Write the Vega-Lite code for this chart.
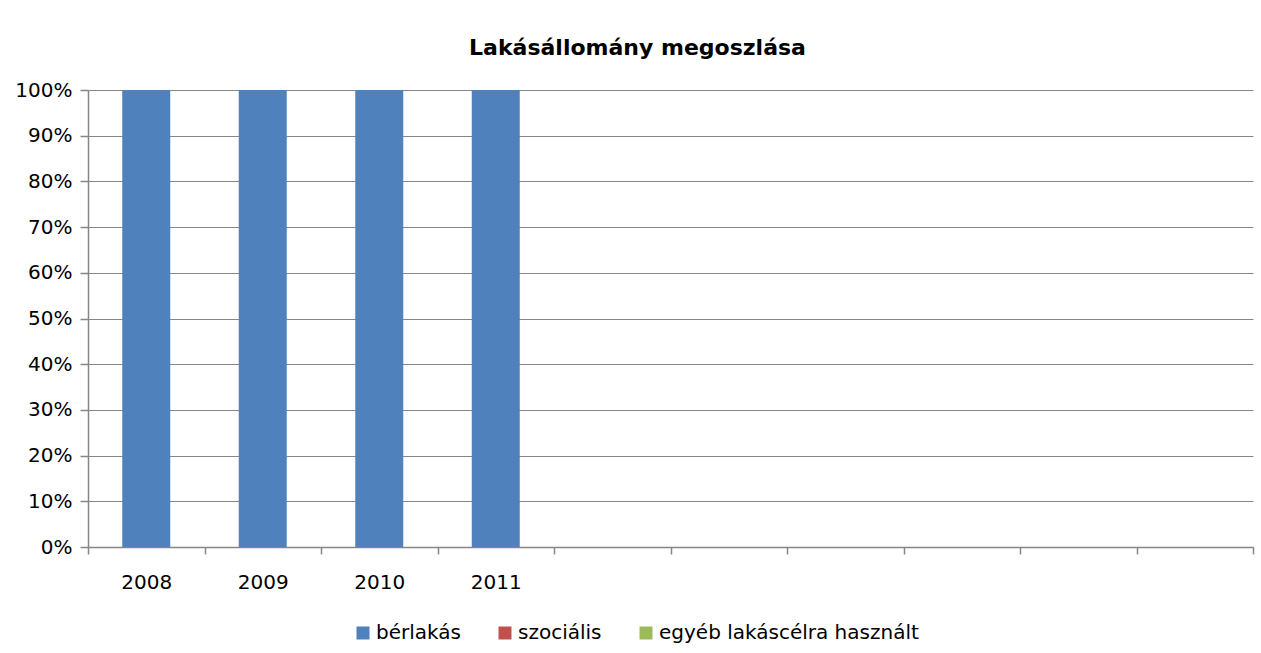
{
  "$schema": "https://vega.github.io/schema/vega-lite/v6.json",
  "autosize": "none",
  "width": 1165,
  "height": 457,
  "padding": {"left": 88, "top": 90, "right": 8, "bottom": 106},
  "background": "white",
  "config": {
    "view": {"stroke": null}
  },
  "title": {
    "text": "Lakásállomány megoszlása",
    "font": "DejaVu Sans",
    "fontSize": 22,
    "fontWeight": "bold",
    "color": "#000000",
    "anchor": "middle",
    "dx": -33,
    "offset": 20
  },
  "data": {
    "values": [
      {"year": "2008", "series": "bérlakás", "value": 100},
      {"year": "2008", "series": "szociális", "value": 0},
      {"year": "2008", "series": "egyéb lakáscélra használt", "value": 0},
      {"year": "2009", "series": "bérlakás", "value": 100},
      {"year": "2009", "series": "szociális", "value": 0},
      {"year": "2009", "series": "egyéb lakáscélra használt", "value": 0},
      {"year": "2010", "series": "bérlakás", "value": 100},
      {"year": "2010", "series": "szociális", "value": 0},
      {"year": "2010", "series": "egyéb lakáscélra használt", "value": 0},
      {"year": "2011", "series": "bérlakás", "value": 100},
      {"year": "2011", "series": "szociális", "value": 0},
      {"year": "2011", "series": "egyéb lakáscélra használt", "value": 0}
    ]
  },
  "mark": {"type": "bar", "width": {"band": 0.412}},
  "encoding": {
    "x": {
      "field": "year",
      "type": "nominal",
      "scale": {
        "domain": ["2008", "2009", "2010", "2011", " ", "  ", "   ", "    ", "     ", "      "],
        "paddingInner": 0,
        "paddingOuter": 0
      },
      "axis": {
        "title": null,
        "labelAngle": 0,
        "tickBand": "extent",
        "tickSize": 7,
        "tickColor": "#868686",
        "domainColor": "#868686",
        "tickWidth": 1.5,
        "domainWidth": 1.5,
        "labelFont": "DejaVu Sans",
        "labelFontSize": 20,
        "labelColor": "#000000",
        "labelPadding": 18,
        "grid": false
      }
    },
    "y": {
      "field": "value",
      "type": "quantitative",
      "stack": "normalize",
      "axis": {
        "title": null,
        "values": [0, 0.1, 0.2, 0.3, 0.4, 0.5, 0.6, 0.7, 0.8, 0.9, 1],
        "format": ".0%",
        "grid": true,
        "gridColor": "#868686",
        "gridWidth": 1.2,
        "domainColor": "#868686",
        "domainWidth": 1.5,
        "tickColor": "#868686",
        "tickWidth": 1.5,
        "tickSize": 8,
        "labelPadding": 8,
        "labelFont": "DejaVu Sans",
        "labelFontSize": 20,
        "labelColor": "#000000"
      }
    },
    "color": {
      "field": "series",
      "type": "nominal",
      "scale": {
        "domain": ["bérlakás", "szociális", "egyéb lakáscélra használt"],
        "range": ["#4F81BD", "#C0504D", "#9BBB59"]
      },
      "legend": {
        "title": null,
        "orient": "none",
        "direction": "horizontal",
        "legendX": 265,
        "legendY": 533,
        "symbolType": "square",
        "symbolSize": 169,
        "labelFont": "DejaVu Sans",
        "labelFontSize": 20,
        "labelColor": "#000000",
        "labelOffset": 3,
        "labelLimit": 400,
        "columnPadding": 34
      }
    }
  }
}
